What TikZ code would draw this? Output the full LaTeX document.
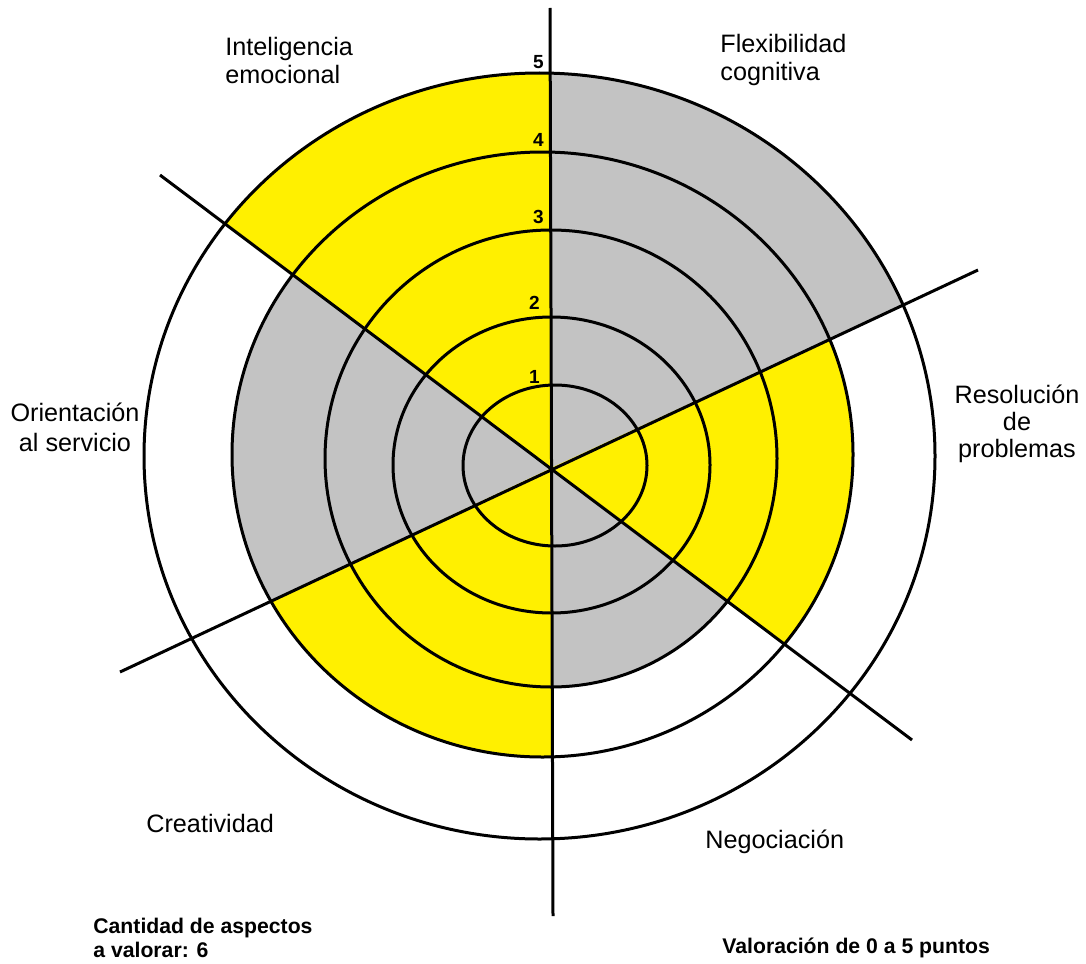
\documentclass[tikz,border=0pt]{standalone}
\usepackage{fontspec}
\setmainfont{Liberation Sans}
\usetikzlibrary{calc}

\definecolor{amarillo}{RGB}{255,240,0}
\definecolor{gris}{RGB}{195,195,195}
\tikzset{
    linea/.style={line width=1.5pt},
    etiqueta/.style={inner sep=0pt, font=\fontsize{12.6}{14}\selectfont},
    nota/.style={inner sep=0pt, font=\bfseries\fontsize{10.6}{12}\selectfont},
    nivel/.style={inner sep=0pt, anchor=base east, font=\bfseries\fontsize{9.5}{10}\selectfont}
}

\begin{document}
\begin{tikzpicture}[x=0.5pt, y=-0.5pt]
    \useasboundingbox (0,0) rectangle (1086,963);

    \coordinate (C) at (551,468);
    \coordinate (Vt) at (550,8);
    \coordinate (Vb) at (553,916);
    \coordinate (Ul) at (160,175);
    \coordinate (Lr) at (912,740);
    \coordinate (Ll) at (120,672);
    \coordinate (Ur) at (978,270);

    \coordinate (O1) at (555,465.5);
    \coordinate (O2) at (551.5,465);
    \coordinate (O3) at (551,458.5);
    \coordinate (O4) at (542.5,454.5);
    \coordinate (O5) at (539.5,456);
    \def\rxlist{{0,92,158.5,226,310.5,395.5}}
    \def\rylist{{0,80.5,148,228.5,302.5,383}}

    % sectores: hasta que anillo llega cada uno
    \foreach \a/\b/\k/\col in {Vt/Ul/5/amarillo, Ur/Vt/5/gris, Lr/Ur/4/amarillo,
                               Vb/Lr/3/gris, Ll/Vb/4/amarillo, Ul/Ll/4/gris}{
        \pgfmathsetmacro\rx{\rxlist[\k]}
        \pgfmathsetmacro\ry{\rylist[\k]}
        \begin{scope}
            \clip (C) -- ($(C)!2!(\a)$) -- ($(C)!2!(\b)$) -- cycle;
            \fill[\col] (O\k) ellipse [x radius=\rx, y radius=\ry];
        \end{scope}
    }

    \foreach \k in {1,...,5}{
        \pgfmathsetmacro\rx{\rxlist[\k]}
        \pgfmathsetmacro\ry{\rylist[\k]}
        \draw[linea] (O\k) ellipse [x radius=\rx, y radius=\ry];
    }

    \draw[linea] (Vt) -- (Vb);
    \draw[linea] (Ul) -- (Lr);
    \draw[linea] (Ll) -- (Ur);

    \node[etiqueta, anchor=north west, align=left] (intel) at (225,37) {Inteligencia\\emocional};
    \node[etiqueta, anchor=north west, align=left] (flex) at (720,34) {Flexibilidad\\cognitiva};
    \node[etiqueta, anchor=north, align=center, font=\fontsize{12.6}{13.5}\selectfont] (resol) at (1017,385) {Resolución\\de\\problemas};
    \node[etiqueta, anchor=north, align=center, font=\fontsize{12.6}{15}\selectfont] (orient) at (75,403) {Orientación\\al servicio};
    \node[etiqueta, anchor=base west] (creat) at (146,832) {Creatividad};
    \node[etiqueta, anchor=base west] (negoc) at (705,848) {Negociación};

    \node[nota, anchor=north west, align=left] (cant) at (93,918) {Cantidad de aspectos\\a valorar: 6};
    \node[nota, anchor=base west] (valor) at (722,953) {Valoración de 0 a 5 puntos};

    \foreach \n/\px/\py in {1/540/383, 2/540/309, 3/544/223, 4/544/147, 5/544/69}
    \node[nivel] (n\n) at (\px,\py) {\n};
\end{tikzpicture}
\end{document}
